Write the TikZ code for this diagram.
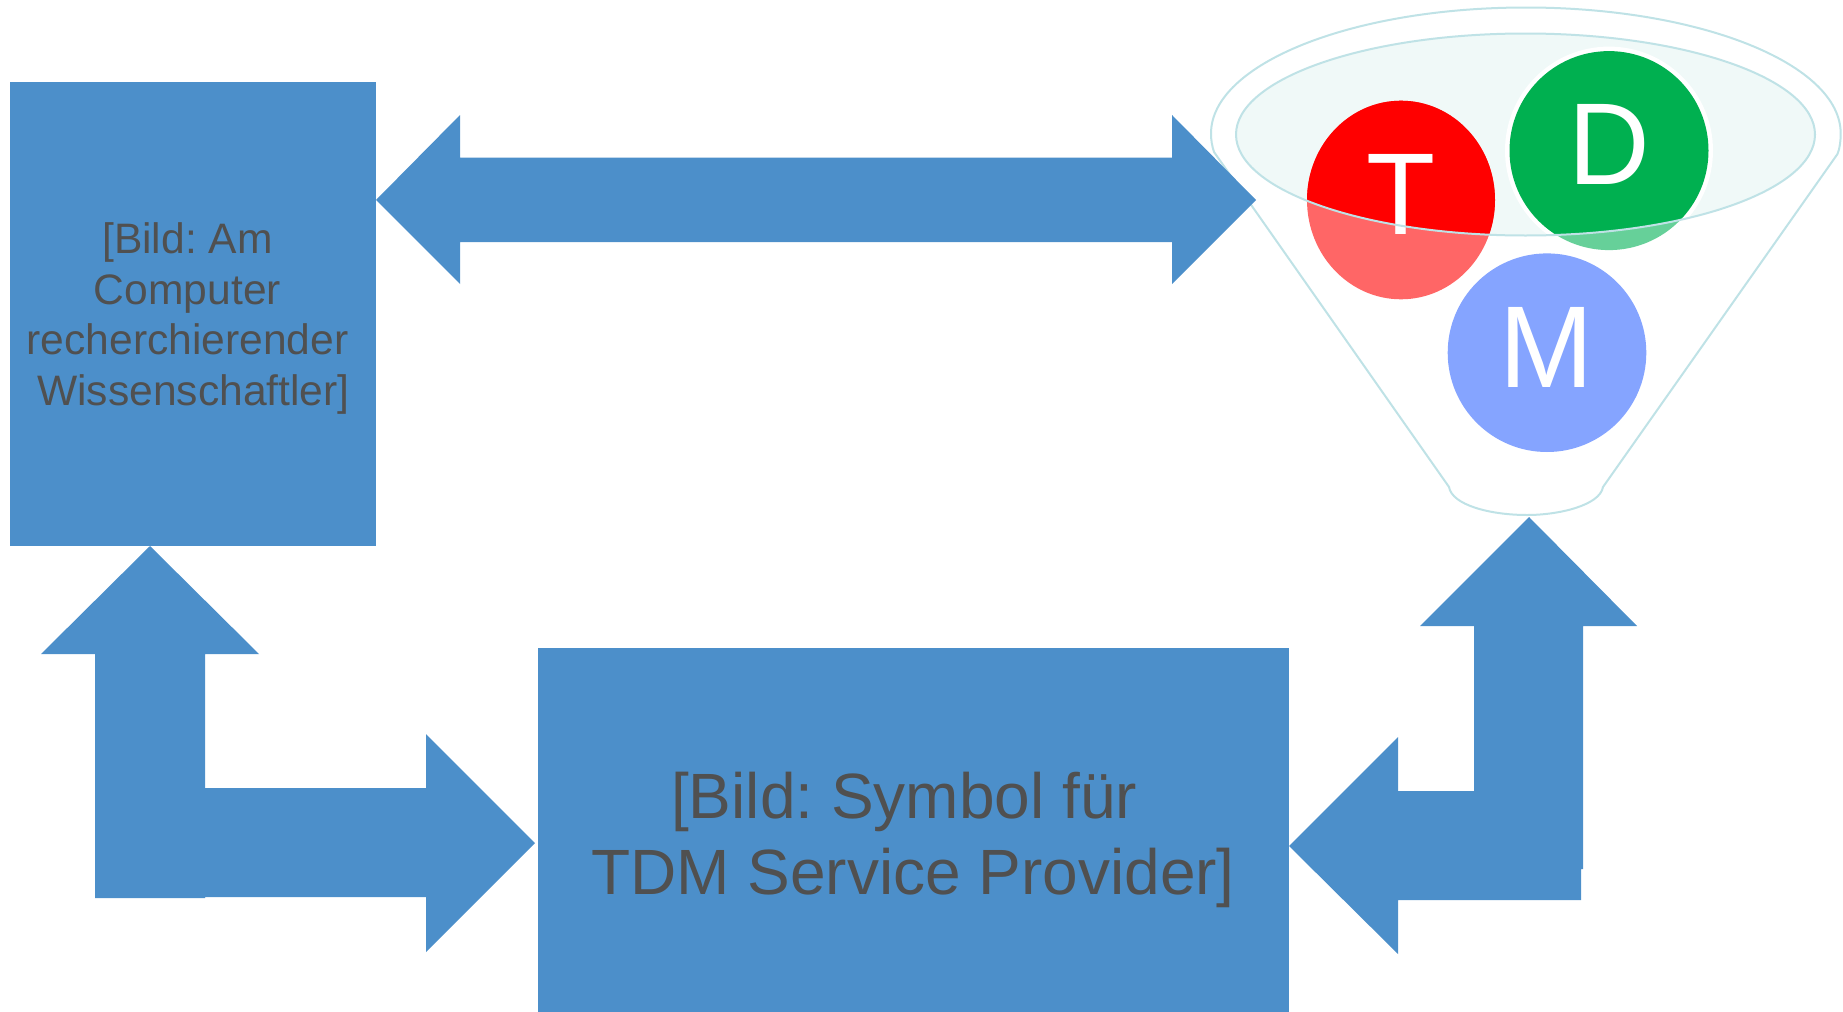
\documentclass[tikz,border=0pt]{standalone}
\usepackage{fontspec}
\setmainfont{Liberation Sans}
\frenchspacing
\definecolor{blk}{HTML}{4C8FCA}
\definecolor{fun}{HTML}{BFE2E6}
\definecolor{funfill}{HTML}{F0F9F8}
\definecolor{txt}{HTML}{505050}
\definecolor{redA}{HTML}{FF0000}
\definecolor{redB}{HTML}{FF6666}
\definecolor{grnA}{HTML}{00B050}
\definecolor{grnB}{HTML}{66D099}
\definecolor{mblue}{HTML}{85A4FF}
\tikzset{
  blockbox/.style={fill=blk,draw=none,inner sep=0pt,outer sep=0pt,anchor=center},
  blockarrow/.style={fill=blk,draw=none},
  funnelline/.style={draw=fun,line width=1pt},
  lefttext/.style={text=txt,font=\fontsize{21.3}{25.3}\selectfont,align=center,inner sep=0pt},
  bigtext/.style={text=txt,font=\fontsize{32}{38.2}\selectfont,align=center,inner sep=0pt},
  letter/.style={text=white,font=\fontsize{56.5}{60}\selectfont,inner sep=0pt,transform shape,yscale=1.03},
}
\begin{document}
\begin{tikzpicture}[x=0.5pt,y=-0.5pt]
\useasboundingbox (0,0) rectangle (1843,1012);
% boxes
\node[blockbox,minimum width=183pt,minimum height=232pt] (leftbox) at (193,314) {};
\node[blockbox,minimum width=375.5pt,minimum height=182pt] (bottombox) at (913.5,830) {};
\node[lefttext] (lefttxt) at (187.5,318.5) {[Bild: Am\\Computer\\recherchierender\\\ Wissenschaftler]};
\node[bigtext] (bottomtxt) at (913,840) {[Bild: Symbol für\ \hbox{}\\TDM Service Provider]};
% funnel
\path[funnelline,fill=white] (1214,152) .. controls (1212,146) and (1211,140) .. (1211,133.5)
  .. controls (1211,63.9) and (1352,7.5) .. (1526,7.5)
  .. controls (1700,7.5) and (1840.7,63.9) .. (1840.7,133.5)
  .. controls (1840.7,140) and (1840,148) .. (1837.5,154)
  -- (1603,487) .. controls (1600,505) and (1560,515) .. (1527,515)
  .. controls (1490,515) and (1452,505) .. (1449,487) -- cycle;
\fill[funfill] (1525.5,134.5) ellipse [x radius=289.5,y radius=101];
% circles, paler outside the funnel's mouth
\fill[redB] (1401,200) ellipse [x radius=94,y radius=99.3];
\fill[grnB] (1609,150.6) ellipse [x radius=99.5,y radius=99.5];
\begin{scope}
  \clip (1525.5,134.5) ellipse [x radius=289.5,y radius=101];
  \fill[redA] (1401,200) ellipse [x radius=94,y radius=99.3];
  \fill[white] (1609,150.6) ellipse [x radius=104,y radius=104];
  \fill[grnA] (1609,150.6) ellipse [x radius=99.5,y radius=99.5];
\end{scope}
\node[letter,anchor=base] (T) at (1401,234.5) {T};
\node[letter,anchor=base] (D) at (1609,184.5) {D};
\draw[funnelline] (1525.5,134.5) ellipse [x radius=289.5,y radius=101];
\fill[mblue] (1547,352.7) ellipse [x radius=99.3,y radius=99.3];
\node[letter,anchor=base] (M) at (1547,387) {M};
% block arrows
\fill[blockarrow] (376,200) -- (460,115) -- (460,157.5) -- (1172,157.5) -- (1172,115) -- (1256,200)
  -- (1172,284) -- (1172,242) -- (460,242) -- (460,284) -- cycle;
\fill[blockarrow] (150,546) -- (259,654) -- (205,654) -- (205,788) -- (426,788) -- (426,734)
  -- (535,843) -- (426,952) -- (426,897) -- (205,897) -- (205,898) -- (95,898) -- (95,654) -- (41,654) -- cycle;
\fill[blockarrow] (1529,517) -- (1637,626) -- (1583,626) -- (1583,869) -- (1581,869) -- (1581,900)
  -- (1398,900) -- (1398,954) -- (1289,846) -- (1398,737) -- (1398,791) -- (1474,791) -- (1474,626) -- (1420,626) -- cycle;
\end{tikzpicture}
\end{document}
